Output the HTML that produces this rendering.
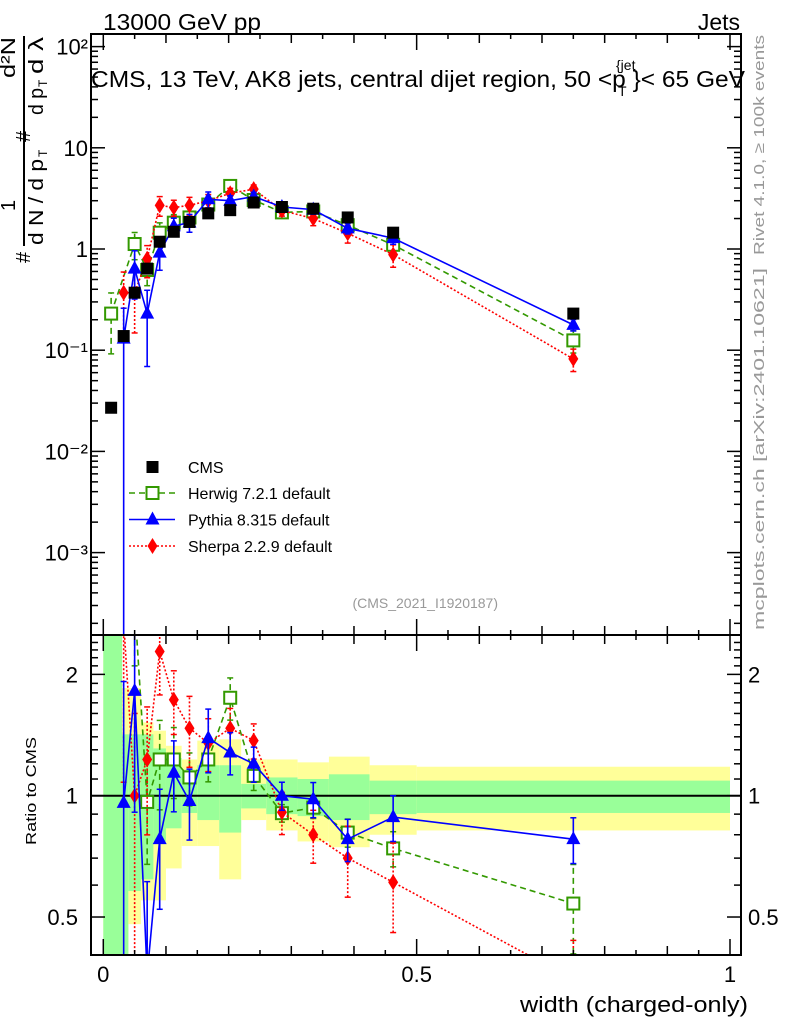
<!DOCTYPE html>
<html><head><meta charset="utf-8"><style>
html,body{margin:0;padding:0;background:#fff;width:786px;height:1024px;overflow:hidden;}
svg{display:block;font-family:"Liberation Sans",sans-serif;}
</style></head><body>
<svg id="chart" width="786" height="1024" viewBox="0 0 786 1024" xmlns="http://www.w3.org/2000/svg">
<defs>
<clipPath id="clipMain"><rect x="91" y="34" width="650" height="601"/></clipPath>
<clipPath id="clipRatio"><rect x="91" y="635" width="650" height="320"/></clipPath>
</defs>
<rect x="0" y="0" width="786" height="1024" fill="#fff"/>
<g id="ratioBands" clip-path="url(#clipRatio)"></g>
<g id="mainMarks" clip-path="url(#clipMain)"></g>
<g id="ratioMarks" clip-path="url(#clipRatio)"></g>
<g id="axes"></g>
<text x="103" y="30" font-size="23" textLength="158" lengthAdjust="spacingAndGlyphs">13000 GeV pp</text>
<text x="740" y="30" font-size="23" text-anchor="end">Jets</text>
<text x="91" y="87" font-size="23" textLength="654" lengthAdjust="spacingAndGlyphs">CMS, 13 TeV, AK8 jets, central dijet region, 50 &lt;p   }&lt; 65 GeV</text>
<text x="616" y="70" font-size="14">{jet</text>
<text x="618" y="96" font-size="14">T</text>
<text transform="translate(764,255) rotate(-90)" font-size="15" fill="#999" textLength="220" lengthAdjust="spacingAndGlyphs">Rivet 4.1.0, ≥ 100k events</text>
<text transform="translate(764,630) rotate(-90)" font-size="15" fill="#999" textLength="362" lengthAdjust="spacingAndGlyphs">mcplots.cern.ch [arXiv:2401.10621]</text>
<text x="498" y="608" font-size="14" fill="#999" text-anchor="end">(CMS_2021_I1920187)</text>
<g font-size="20">
<line x1="24" y1="36" x2="24" y2="246" stroke="#000" stroke-width="2"/>
<text transform="translate(30,263) rotate(-90)">#</text>
<text transform="translate(15,211) rotate(-90)">1</text>
<text transform="translate(43,245) rotate(-90)" textLength="86" lengthAdjust="spacingAndGlyphs">d N / d p</text>
<text transform="translate(47,157) rotate(-90)" font-size="12">T</text>
<text transform="translate(30,142) rotate(-90)">#</text>
<text transform="translate(15,78) rotate(-90)" textLength="41" lengthAdjust="spacingAndGlyphs">d²N</text>
<text transform="translate(43,115) rotate(-90)" textLength="27" lengthAdjust="spacingAndGlyphs">d p</text>
<text transform="translate(47,87) rotate(-90)" font-size="12">T</text>
<text transform="translate(43,74) rotate(-90)" textLength="37" lengthAdjust="spacingAndGlyphs">d λ</text>
</g>
<text transform="translate(36,845) rotate(-90)" font-size="15" textLength="108" lengthAdjust="spacingAndGlyphs">Ratio to CMS</text>
<text x="748" y="1012" font-size="22" text-anchor="end" textLength="228" lengthAdjust="spacingAndGlyphs">width (charged-only)</text>
<g id="legend"></g>
</svg>
<script>
const binEdges = [0,0.03,0.04,0.06,0.08,0.1,0.125,0.15,0.185,0.22,0.26,0.31,0.36,0.425,0.5,1.0];
const binCenters = [0.0125,0.0325,0.05,0.07,0.09,0.1125,0.1375,0.1675,0.2025,0.24,0.285,0.335,0.39,0.4625,0.75];
const cmsValues = [0.027,0.138,0.37,0.64,1.18,1.48,1.85,2.25,2.42,2.88,2.6,2.5,2.05,1.45,0.23];
const herwigValues = [0.23,null,1.12,0.62,1.45,1.82,2.05,2.75,4.2,3.05,2.3,2.35,1.72,1.1,0.125];
const pythiaValues = [null,0.13,0.64,0.23,0.92,1.68,1.83,3.1,3.0,3.3,2.6,2.45,1.6,1.28,0.178];
const sherpaValues = [null,0.37,0.37,0.8,2.7,2.57,2.7,3.0,3.55,3.9,2.4,2.0,1.43,0.88,0.082];
const herwigRatio = [8.5,null,3.0,0.965,1.23,1.23,1.11,1.23,1.75,1.12,0.905,0.934,0.81,0.74,0.54];
const pythiaRatio = [null,0.96,1.82,0.36,0.78,1.14,0.97,1.39,1.28,1.20,1.0,0.98,0.78,0.885,0.78];
const sherpaRatio = [null,2.7,1.0,1.23,2.28,1.73,1.47,1.35,1.47,1.37,0.91,0.80,0.70,0.61,0.35];
const herwigErr = [0.6,0,0.3,0.3,0.25,0.2,0.15,0.12,0.12,0.08,0.05,0.06,0.08,0.1,0.25];
const pythiaErr = [0,1.0,0.5,0.7,0.33,0.2,0.2,0.18,0.12,0.1,0.08,0.1,0.12,0.13,0.13];
const sherpaErr = [0,0.6,0.6,0.35,0.22,0.18,0.2,0.15,0.12,0.1,0.12,0.15,0.2,0.25,0.25];
const greenLo = [0.3,0.3,0.58,0.62,0.77,0.83,0.906,0.87,0.81,0.93,0.90,0.89,0.87,0.90,0.906];
const greenHi = [3,1.42,1.42,1.42,1.31,1.24,1.16,1.19,1.19,1.07,1.11,1.10,1.13,1.09,1.09];
const yellowLo = [0.3,0.3,0.48,0.55,0.55,0.66,0.75,0.75,0.62,0.87,0.82,0.77,0.745,0.80,0.82];
const yellowHi = [3,1.85,1.85,1.52,1.45,1.33,1.23,1.37,1.38,1.23,1.23,1.21,1.25,1.19,1.18];
const mainTickLabels = ["10⁻³","10⁻²","10⁻¹","1","10","10²"];
const mainTickValues = [1e-3,1e-2,1e-1,1,10,100];
const ratioTickValues = [0.5,1,2];
const ratioTickLabels = ["0.5","1","2"];
const xTickValues = [0,0.5,1];
const xTickLabels = ["0","0.5","1"];

const NS="http://www.w3.org/2000/svg";
const X = v => 103.3 + v*626.7;
const YM = v => 249 - 101.2*Math.log10(v);
const YR = r => 795.7 - 403*Math.log10(r);
function mk(tag, attrs, parent){const e=document.createElementNS(NS,tag);for(const k in attrs)e.setAttribute(k,attrs[k]);parent.appendChild(e);return e;}

const axes=document.getElementById('axes');
let f1=mk('rect',{x:91,y:34,width:650,height:601,fill:'none',stroke:'#000','stroke-width':2},axes);


let f2=mk('rect',{x:91,y:635,width:650,height:320,fill:'none',stroke:'#000','stroke-width':2},axes);


for(let i=0;i<=20;i++){
  const v=i*0.05, x=X(v);
  const len = (i%10===0)?16:((i%2===0)?9:5);
  [[955,-1],[635,-1],[635,1],[34,1]].forEach(([y0,d])=>{
    let t=mk('line',{x1:x,y1:y0,x2:x,y2:y0+d*len,stroke:'#000','stroke-width':1.5},axes);
    
    
  });
}
xTickValues.forEach((v,i)=>{
  let t=mk('text',{x:X(v),y:982,'font-size':22,'text-anchor':'middle'},axes);
  t.textContent=xTickLabels[i];
  
  
});
for(let d=-4;d<=2;d++){
  for(let m=1;m<=9;m++){
    const v=m*Math.pow(10,d), y=YM(v);
    if(y<34||y>635) continue;
    const len=m===1?14:7;
    [[91,1],[741,-1]].forEach(([x0,s])=>{
      let t=mk('line',{x1:x0,y1:y,x2:x0+s*len,y2:y,stroke:'#000','stroke-width':1.5},axes);
      
      
    });
  }
}
mainTickValues.forEach((v,i)=>{
  let t=mk('text',{x:88,y:YM(v)+8,'font-size':22,'text-anchor':'end'},axes);
  t.textContent=mainTickLabels[i];
  
  
});
const rMinor=[0.4,0.6,0.7,0.8,0.9,1.1,1.2,1.3,1.4,1.5,1.6,1.7,1.8,1.9,2.1,2.2,2.3,2.4];
rMinor.concat(ratioTickValues).forEach(r=>{
  const y=YR(r); if(y<635||y>955) return;
  const len=ratioTickValues.includes(r)?14:7;
  [[91,1],[741,-1]].forEach(([x0,s])=>{
    let t=mk('line',{x1:x0,y1:y,x2:x0+s*len,y2:y,stroke:'#000','stroke-width':1.5},axes);
    
    
  });
});
ratioTickValues.forEach((r,i)=>{
  let t=mk('text',{x:78,y:YR(r)+8,'font-size':22,'text-anchor':'end'},axes);
  t.textContent=ratioTickLabels[i];
  
  
  let t2=mk('text',{x:748,y:YR(r)+8,'font-size':22},axes);
  t2.textContent=ratioTickLabels[i];
  
  
});
const bandG=document.getElementById('ratioBands');
for(let i=0;i<binCenters.length;i++){
  const x1=X(binEdges[i]), x2=X(binEdges[i+1]);
  let y=mk('rect',{x:x1,y:YR(yellowHi[i]),width:x2-x1,height:YR(yellowLo[i])-YR(yellowHi[i]),fill:'#ffff99'},bandG);
  
  
  let g=mk('rect',{x:x1,y:YR(greenHi[i]),width:x2-x1,height:YR(greenLo[i])-YR(greenHi[i]),fill:'#99ff99'},bandG);
  
  
}
let one=mk('line',{x1:91,y1:YR(1),x2:741,y2:YR(1),stroke:'#000','stroke-width':2},bandG);



function marker(parent,type,x,y,color,name){
  let e;
  if(type==='sq') e=mk('rect',{x:x-6,y:y-6,width:12,height:12,fill:'#000'},parent);
  else if(type==='osq') e=mk('rect',{x:x-6,y:y-6,width:12,height:12,fill:'#fff',stroke:color,'stroke-width':2},parent);
  else if(type==='tri') e=mk('polygon',{points:`${x},${y-8} ${x-7},${y+5} ${x+7},${y+5}`,fill:color},parent);
  else e=mk('polygon',{points:`${x},${y-8} ${x-5},${y} ${x},${y+8} ${x+5},${y}`,fill:color},parent);
  
  
  return e;
}
function drawSeries(parent,vals,errs,yf,color,dash,type,name){
  let pts=[];
  vals.forEach((v,i)=>{ if(v!==null) pts.push([X(binCenters[i]),yf(v)]); });
  let pl=mk('polyline',{points:pts.map(p=>p.join(',')).join(' '),fill:'none',stroke:color,'stroke-width':1.6,'stroke-dasharray':dash},parent);
  
  
  vals.forEach((v,i)=>{
    if(v===null) return;
    const x=X(binCenters[i]);
    if(errs && errs[i]>0){
      const lo=v*(1-errs[i]), hi=v*(1+errs[i]);
      const ylo=lo>0?Math.min(yf(lo),980):980, yhi=Math.max(yf(hi),20);
      let eb=mk('line',{x1:x,y1:ylo,x2:x,y2:yhi,stroke:color,'stroke-width':1.6,'stroke-dasharray':dash},parent);
      
      
      [ylo,yhi].forEach(yy=>{
        let c=mk('line',{x1:x-3,y1:yy,x2:x+3,y2:yy,stroke:color,'stroke-width':1.5},parent);
        
        
      });
    }
    marker(parent,type,x,yf(v),color,name+'-point');
  });
}
const mainG=document.getElementById('mainMarks');
drawSeries(mainG,herwigValues,herwigErr,YM,'#339900','6,4','osq','herwig');
drawSeries(mainG,sherpaValues,sherpaErr,YM,'#ff0000','2,2','dia','sherpa');
drawSeries(mainG,pythiaValues,pythiaErr,YM,'#0000ff','','tri','pythia');
cmsValues.forEach((v,i)=>{ marker(mainG,'sq',X(binCenters[i]),YM(v),'#000','cms-point'); });
const ratioG=document.getElementById('ratioMarks');
drawSeries(ratioG,herwigRatio,herwigErr,YR,'#339900','6,4','osq','herwig-ratio');
drawSeries(ratioG,sherpaRatio,sherpaErr,YR,'#ff0000','2,2','dia','sherpa-ratio');
drawSeries(ratioG,pythiaRatio,pythiaErr,YR,'#0000ff','','tri','pythia-ratio');

const leg=document.getElementById('legend');
const legNames=["CMS","Herwig 7.2.1 default","Pythia 8.315 default","Sherpa 2.2.9 default"];
const legColors=["#000","#339900","#0000ff","#ff0000"];
const legDash=["","6,4","","2,2"];
const legTypes=["sq","osq","tri","dia"];
const legY=[467,493,519.5,546];
legNames.forEach((n,i)=>{
  const y=legY[i];
  if(i>0){
    let l=mk('line',{x1:129,y1:y,x2:175,y2:y,stroke:legColors[i],'stroke-width':1.6,'stroke-dasharray':legDash[i]},leg);
    
    
  }
  marker(leg,legTypes[i],152.5,y,legColors[i],'legend-marker');
  let t=mk('text',{x:188,y:y+6,'font-size':16},leg);
  t.textContent=n;
  
  
});
</script>
</body></html>
